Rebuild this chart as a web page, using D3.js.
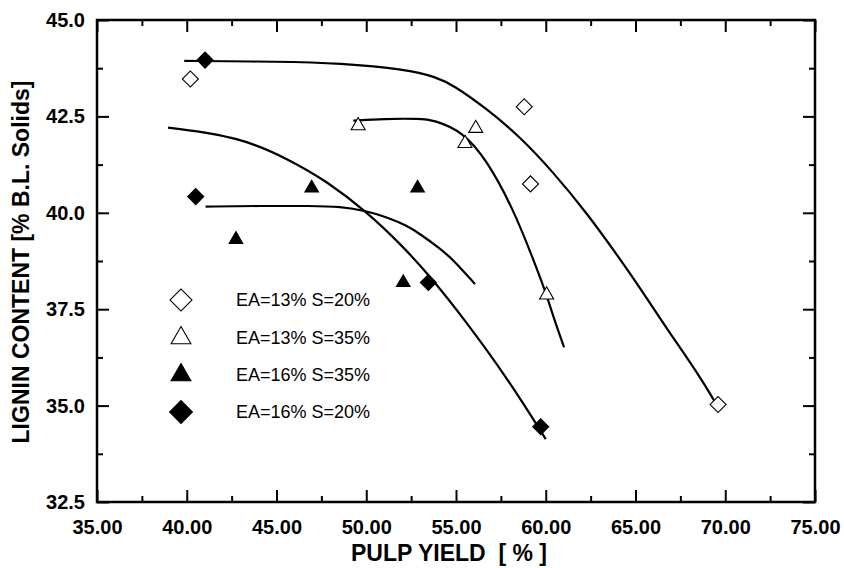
<!DOCTYPE html>
<html>
<head>
<meta charset="utf-8">
<script src="https://cdn.jsdelivr.net/npm/d3@7"></script>
<style>
  body { margin: 0; background: #fff; }
  svg { display: block; font-family: "Liberation Sans", Arial, sans-serif; }
  .tick text { font-size: 20px; font-weight: bold; fill: #000; }
  .tick line { stroke: #000; stroke-width: 2; }
</style>
</head>
<body>
<svg id="chart" width="844" height="568"></svg>
<script>
// series labels
const seriesNames = ["EA=13% S=20%", "EA=13% S=35%", "EA=16% S=35%", "EA=16% S=20%"];

// measured points [pulp yield %, lignin %]
const ea13s20 = [[40.2, 43.47], [58.8, 42.75], [59.15, 40.75], [69.6, 35.03]];
const ea13s35 = [[49.55, 42.26], [55.5, 41.8], [56.1, 42.19], [60.05, 37.87]];
const ea16s35 = [[42.74, 39.31], [46.96, 40.64], [52.06, 38.19], [52.86, 40.64]];
const ea16s20 = [[40.5, 40.42], [41.02, 43.96], [53.46, 38.19], [59.72, 34.45]];

// fitted curves
const fit13s20 = [[39.86, 43.94], [45.2, 43.92], [48.5, 43.88], [52.25, 43.72], [53.9, 43.52],
  [54.85, 43.31], [56.71, 42.7], [58.57, 41.97], [60.42, 41.05], [62.28, 40.0],
  [64.14, 38.8], [65.25, 38.05], [66.74, 37.0], [68.6, 35.75], [69.52, 35.02]];
const fit13s35 = [[49.28, 42.39], [51.0, 42.44], [53.0, 42.44], [53.74, 42.41], [55.4, 42.1],
  [56.71, 41.37], [58.19, 40.1], [59.3, 38.8], [60.05, 37.87], [60.42, 37.31], [61.02, 36.51]];
const fit16s35 = [[41.05, 40.16], [44.0, 40.18], [47.0, 40.18], [48.54, 40.16], [50.0, 40.05],
  [51.2, 39.88], [52.25, 39.67], [53.0, 39.45], [54.1, 39.08], [54.85, 38.78], [56.06, 38.15]];
const fit16s20 = [[38.96, 42.21], [42.97, 41.97], [45.75, 41.37], [47.8, 40.82], [50.02, 40.03],
  [52.06, 39.12], [53.5, 38.38], [55.4, 37.28], [57.91, 35.68], [60.0, 34.13]];

// axis ticks
const xTicks = [35, 40, 45, 50, 55, 60, 65, 70, 75];
const xMinor = [37.5, 42.5, 47.5, 52.5, 57.5, 62.5, 67.5, 72.5];
const yTicks = [32.5, 35, 37.5, 40, 42.5, 45];
const yMinor = [33.75, 36.25, 38.75, 41.25, 43.75];

const margin = {top: 20, right: 29, bottom: 66, left: 97};
const svg = d3.select("#chart");
const width = 844 - margin.left - margin.right;
const height = 568 - margin.top - margin.bottom;

const x = d3.scaleLinear().domain([35, 75]).range([0, width]);
const y = d3.scaleLinear().domain([32.5, 45]).range([height, 0]);

const g = svg.append("g").attr("transform", `translate(${margin.left},${margin.top})`);

// ---- axes (ticks point inward) ----
function axisGroup(axis, tx, ty) {
  let a = g.append("g").attr("transform", `translate(${tx},${ty})`).call(axis);
  a.select(".domain").remove();
  return a;
}
axisGroup(d3.axisBottom(x).tickValues(xTicks).tickFormat(d3.format(".2f")).tickSize(-12).tickPadding(18), 0, height);
axisGroup(d3.axisBottom(x).tickValues(xMinor).tickFormat("").tickSize(-6), 0, height);
axisGroup(d3.axisTop(x).tickValues(xTicks).tickFormat("").tickSize(-12), 0, 0);
axisGroup(d3.axisTop(x).tickValues(xMinor).tickFormat("").tickSize(-6), 0, 0);
axisGroup(d3.axisLeft(y).tickValues(yTicks).tickFormat(d3.format(".1f")).tickSize(-12).tickPadding(12), 0, 0);
axisGroup(d3.axisLeft(y).tickValues(yMinor).tickFormat("").tickSize(-6), 0, 0);
axisGroup(d3.axisRight(y).tickValues(yTicks).tickFormat("").tickSize(-12), width, 0);
axisGroup(d3.axisRight(y).tickValues(yMinor).tickFormat("").tickSize(-6), width, 0);

g.append("rect")
  .attr("width", width).attr("height", height)
  .attr("fill", "none").attr("stroke", "#000").attr("stroke-width", 2.5);

// ---- fitted curves ----
let line = d3.line().x(d => x(d[0])).y(d => y(d[1])).curve(d3.curveBasis);
[fit13s20, fit13s35, fit16s35, fit16s20].forEach(c => {
  g.append("path").datum(c).attr("d", line)
    .attr("fill", "none").attr("stroke", "#000").attr("stroke-width", 2.2);
});

// ---- markers ----
const markerStyles = [
  {type: d3.symbolSquare, rot: 45, fill: "#fff", small: 128, big: 242},
  {type: d3.symbolTriangle, rot: 0, fill: "#fff", small: 85, big: 170},
  {type: d3.symbolTriangle, rot: 0, fill: "#000", small: 80, big: 170},
  {type: d3.symbolSquare, rot: 45, fill: "#000", small: 128, big: 260}
];
const seriesData = [ea13s20, ea13s35, ea16s35, ea16s20];

seriesData.forEach((pts, i) => {
  let m = markerStyles[i];
  g.selectAll(null).data(pts).join("path")
    .attr("d", d3.symbol().type(m.type).size(m.small))
    .attr("transform", d => `translate(${x(d[0])},${y(d[1])}) rotate(${m.rot})`)
    .attr("fill", m.fill).attr("stroke", "#000").attr("stroke-width", 1.1);
});

// ---- legend ----
const legendY = [300, 338, 375, 412];
seriesNames.forEach((name, i) => {
  let m = markerStyles[i];
  svg.append("path")
    .attr("d", d3.symbol().type(m.type).size(m.big))
    .attr("transform", `translate(181,${legendY[i]}) rotate(${m.rot})`)
    .attr("fill", m.fill).attr("stroke", "#000").attr("stroke-width", 1.1);
  svg.append("text")
    .attr("x", 236).attr("y", legendY[i]).attr("dy", "0.35em")
    .style("font-size", "18px").text(name);
});

// ---- axis titles ----
svg.append("text")
  .attr("x", 449).attr("y", 561)
  .attr("text-anchor", "middle")
  .style("font-size", "23px").style("font-weight", "bold")
  .attr("xml:space", "preserve")
  .text("PULP YIELD  [ % ]");

svg.append("text")
  .attr("transform", "translate(21,262) rotate(-90)")
  .attr("text-anchor", "middle").attr("dy", "0.35em")
  .style("font-size", "23px").style("font-weight", "bold")
  .text("LIGNIN CONTENT [% B.L. Solids]");
</script>
</body>
</html>
